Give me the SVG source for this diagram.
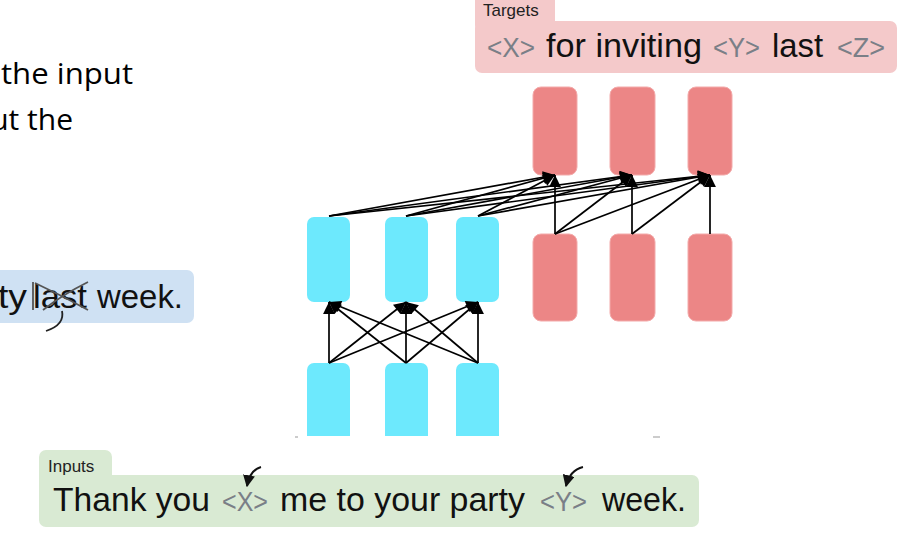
<svg xmlns="http://www.w3.org/2000/svg" width="915" height="545" viewBox="0 0 915 545">
<style>
.sans{font-family:"Liberation Sans","Helvetica",Arial,sans-serif}
.big{font-size:33px;fill:#111}
.tok{font-size:27px;fill:#7a7f87}
.lbl{font-size:17px;fill:#222}
.side{font-family:"Open Sans","Noto Sans",sans-serif;font-size:30px;fill:#000}
.cy{fill:#6de9fd}
.rd{fill:#ec8686;stroke:#f3aaaa;stroke-width:1}
.ar{stroke:#000;stroke-width:1.7;fill:none;marker-end:url(#ah)}
</style>
<defs>
<marker id="ah" viewBox="0 0 10 10" refX="10" refY="5" markerWidth="8" markerHeight="7" orient="auto" markerUnits="strokeWidth">
<path d="M0,0 L10,5 L0,10 z" fill="#000"/>
</marker>
<marker id="ah2" viewBox="0 0 10 10" refX="9" refY="5" markerWidth="6" markerHeight="6" orient="auto" markerUnits="strokeWidth">
<path d="M0,0 L10,5 L0,10 z" fill="#111"/>
</marker>
</defs>
<rect width="915" height="545" fill="#fff"/>

<!-- left side fragments -->
<g id="side-text">
<text class="side" x="1" y="84" textLength="132" lengthAdjust="spacingAndGlyphs">the input</text>
<text class="side" x="73" y="130" text-anchor="end">ut the</text>
</g>

<g id="blue-box">
<rect x="-12" y="270" width="206" height="53" rx="7" fill="#cfe1f3"/>
<text class="sans big" x="-2" y="308" textLength="29" lengthAdjust="spacingAndGlyphs">ty</text>
<text class="sans big" x="33" y="308" textLength="54" lengthAdjust="spacingAndGlyphs">last</text>
<text class="sans big" x="97" y="308" textLength="86" lengthAdjust="spacingAndGlyphs">week.</text>
<path d="M33 282 L33 310 M35 283 C50 290,70 300,88 310 M43 310 C58 298,72 290,88 282" stroke="#555" stroke-width="1.8" fill="none"/>
<path d="M62 311 C64 320,58 327,46 331" stroke="#222" stroke-width="1.8" fill="none"/>
</g>

<!-- targets -->
<g id="targets">
<rect x="475" y="-8" width="80" height="40" rx="7" fill="#f4c9ca"/>
<rect x="475" y="21" width="422" height="52" rx="7" fill="#f4c9ca"/>
<text class="sans lbl" x="483" y="16">Targets</text>
<text class="sans tok" x="487" y="57" textLength="48" lengthAdjust="spacingAndGlyphs">&lt;X&gt;</text>
<text class="sans big" x="546" y="57" textLength="156" lengthAdjust="spacingAndGlyphs">for inviting</text>
<text class="sans tok" x="713" y="57" textLength="47" lengthAdjust="spacingAndGlyphs">&lt;Y&gt;</text>
<text class="sans big" x="772" y="57" textLength="51" lengthAdjust="spacingAndGlyphs">last</text>
<text class="sans tok" x="837" y="57" textLength="48" lengthAdjust="spacingAndGlyphs">&lt;Z&gt;</text>
</g>

<!-- inputs -->
<g id="inputs">
<rect x="39" y="450" width="73" height="40" rx="7" fill="#d9ead3"/>
<rect x="39" y="475" width="660" height="52" rx="7" fill="#d9ead3"/>
<text class="sans lbl" x="48" y="472">Inputs</text>
<text class="sans big" x="53" y="511" textLength="157" lengthAdjust="spacingAndGlyphs">Thank you</text>
<text class="sans tok" x="222" y="511" textLength="46" lengthAdjust="spacingAndGlyphs">&lt;X&gt;</text>
<text class="sans big" x="280" y="511" textLength="245" lengthAdjust="spacingAndGlyphs">me to your party</text>
<text class="sans tok" x="540" y="511" textLength="47" lengthAdjust="spacingAndGlyphs">&lt;Y&gt;</text>
<text class="sans big" x="602" y="511" textLength="84" lengthAdjust="spacingAndGlyphs">week.</text>
<path d="M261 467 Q250 470 247 486" stroke="#111" stroke-width="2" fill="none" marker-end="url(#ah2)"/>
<path d="M583 467 Q570 470 566 486" stroke="#111" stroke-width="2" fill="none" marker-end="url(#ah2)"/>
</g>

<!-- encoder input nodes -->
<g id="enc-in-1"><path class="cy" d="M307 436 V370 a7 7 0 0 1 7 -7 H343 a7 7 0 0 1 7 7 V436 z"/></g>
<g id="enc-in-2"><path class="cy" d="M385 436 V370 a7 7 0 0 1 7 -7 H421 a7 7 0 0 1 7 7 V436 z"/></g>
<g id="enc-in-3"><path class="cy" d="M456 436 V370 a7 7 0 0 1 7 -7 H492 a7 7 0 0 1 7 7 V436 z"/></g>

<!-- encoder output nodes -->
<g id="enc-out-1"><rect class="cy" x="307" y="217" width="43" height="85" rx="7"/></g>
<g id="enc-out-2"><rect class="cy" x="385" y="217" width="43" height="85" rx="7"/></g>
<g id="enc-out-3"><rect class="cy" x="456" y="217" width="43" height="85" rx="7"/></g>

<!-- decoder input nodes -->
<g id="dec-in-1"><rect class="rd" x="533" y="234" width="44" height="87" rx="8"/></g>
<g id="dec-in-2"><rect class="rd" x="610" y="234" width="45" height="87" rx="8"/></g>
<g id="dec-in-3"><rect class="rd" x="688" y="234" width="44" height="87" rx="8"/></g>

<!-- decoder output nodes -->
<g id="dec-out-1"><rect class="rd" x="533" y="87" width="44" height="88" rx="8"/></g>
<g id="dec-out-2"><rect class="rd" x="610" y="87" width="45" height="88" rx="8"/></g>
<g id="dec-out-3"><rect class="rd" x="688" y="87" width="44" height="88" rx="8"/></g>

<!-- small marks -->
<g id="marks" stroke="#999" stroke-width="1">
<line x1="295" y1="437" x2="298" y2="437"/>
<line x1="653" y1="437" x2="660" y2="437"/>
</g>

<g id="connectors">
<!-- encoder self attention -->
<line class="ar" x1="329" y1="363" x2="329" y2="302"/>
<line class="ar" x1="329" y1="363" x2="406" y2="302"/>
<line class="ar" x1="329" y1="363" x2="478" y2="302"/>
<line class="ar" x1="406" y1="363" x2="329" y2="302"/>
<line class="ar" x1="406" y1="363" x2="406" y2="302"/>
<line class="ar" x1="406" y1="363" x2="478" y2="302"/>
<line class="ar" x1="478" y1="363" x2="329" y2="302"/>
<line class="ar" x1="478" y1="363" x2="406" y2="302"/>
<line class="ar" x1="478" y1="363" x2="478" y2="302"/>
<!-- encoder to decoder -->
<line class="ar" x1="329" y1="216" x2="555" y2="175"/>
<line class="ar" x1="329" y1="216" x2="632" y2="175"/>
<line class="ar" x1="329" y1="216" x2="710" y2="175"/>
<line class="ar" x1="406" y1="216" x2="555" y2="175"/>
<line class="ar" x1="406" y1="216" x2="632" y2="175"/>
<line class="ar" x1="406" y1="216" x2="710" y2="175"/>
<line class="ar" x1="478" y1="216" x2="555" y2="175"/>
<line class="ar" x1="478" y1="216" x2="632" y2="175"/>
<line class="ar" x1="478" y1="216" x2="710" y2="175"/>
<!-- decoder causal -->
<line class="ar" x1="555" y1="234" x2="555" y2="175"/>
<line class="ar" x1="555" y1="234" x2="632" y2="175"/>
<line class="ar" x1="555" y1="234" x2="710" y2="175"/>
<line class="ar" x1="632" y1="234" x2="632" y2="175"/>
<line class="ar" x1="632" y1="234" x2="710" y2="175"/>
<line class="ar" x1="710" y1="234" x2="710" y2="175"/>
</g>
</svg>
